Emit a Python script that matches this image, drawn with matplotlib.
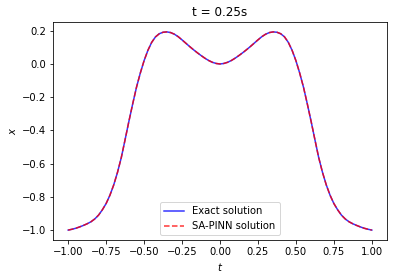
import matplotlib
matplotlib.use("Agg")
import matplotlib.pyplot as plt

x_vals = [-1.000, -0.975, -0.950, -0.925, -0.900, -0.875, -0.850, -0.825, -0.800, -0.775,
          -0.750, -0.725, -0.700, -0.675, -0.650, -0.625, -0.600, -0.575, -0.550, -0.525,
          -0.500, -0.475, -0.450, -0.425, -0.400, -0.375, -0.350, -0.325, -0.300, -0.275,
          -0.250, -0.225, -0.200, -0.175, -0.150, -0.125, -0.100, -0.075, -0.050, -0.025,
          0.000, 0.025, 0.050, 0.075, 0.100, 0.125, 0.150, 0.175, 0.200, 0.225,
          0.250, 0.275, 0.300, 0.325, 0.350, 0.375, 0.400, 0.425, 0.450, 0.475,
          0.500, 0.525, 0.550, 0.575, 0.600, 0.625, 0.650, 0.675, 0.700, 0.725,
          0.750, 0.775, 0.800, 0.825, 0.850, 0.875, 0.900, 0.925, 0.950, 0.975, 1.000]
exact_vals = [-1.000, -0.995, -0.989, -0.981, -0.972, -0.962, -0.950, -0.933, -0.910, -0.878,
              -0.840, -0.790, -0.728, -0.652, -0.563, -0.455, -0.345, -0.240, -0.140, -0.055,
              0.020, 0.082, 0.130, 0.163, 0.182, 0.191, 0.193, 0.189, 0.179, 0.164,
              0.145, 0.125, 0.105, 0.086, 0.068, 0.051, 0.035, 0.021, 0.010, 0.003,
              0.000, 0.003, 0.010, 0.021, 0.035, 0.051, 0.068, 0.086, 0.105, 0.125,
              0.145, 0.164, 0.179, 0.189, 0.193, 0.191, 0.182, 0.163, 0.130, 0.082,
              0.020, -0.055, -0.140, -0.240, -0.345, -0.455, -0.563, -0.652, -0.728, -0.790,
              -0.840, -0.878, -0.910, -0.933, -0.950, -0.962, -0.972, -0.981, -0.989, -0.995, -1.000]
pinn_vals = [-1.000, -0.995, -0.989, -0.981, -0.972, -0.962, -0.950, -0.933, -0.910, -0.878,
             -0.840, -0.790, -0.728, -0.652, -0.563, -0.455, -0.345, -0.240, -0.140, -0.055,
             0.020, 0.082, 0.130, 0.163, 0.182, 0.191, 0.193, 0.189, 0.179, 0.164,
             0.145, 0.125, 0.105, 0.086, 0.068, 0.051, 0.035, 0.021, 0.010, 0.003,
             0.000, 0.003, 0.010, 0.021, 0.035, 0.051, 0.068, 0.086, 0.105, 0.125,
             0.145, 0.164, 0.179, 0.189, 0.193, 0.191, 0.182, 0.163, 0.130, 0.082,
             0.020, -0.055, -0.140, -0.240, -0.345, -0.455, -0.563, -0.652, -0.728, -0.790,
             -0.840, -0.878, -0.910, -0.933, -0.950, -0.962, -0.972, -0.981, -0.989, -0.995, -1.000]

dpi = 72
fig = plt.figure(figsize=(394 / dpi, 280 / dpi), dpi=dpi)
ax = fig.add_axes([53 / 394, 40 / 280, 334 / 394, 218 / 280])
ax.plot(x_vals, exact_vals, 'b-', linewidth=1.5, alpha=0.8, label='Exact solution')
ax.plot(x_vals, pinn_vals, 'r--', linewidth=1.5, alpha=0.8, label='SA-PINN solution')
ax.set_xlabel('$t$')
ax.set_ylabel('$x$')
ax.set_title('t = 0.25s')
ax.legend(loc='lower center')
fig.savefig('out.png', dpi=dpi)
